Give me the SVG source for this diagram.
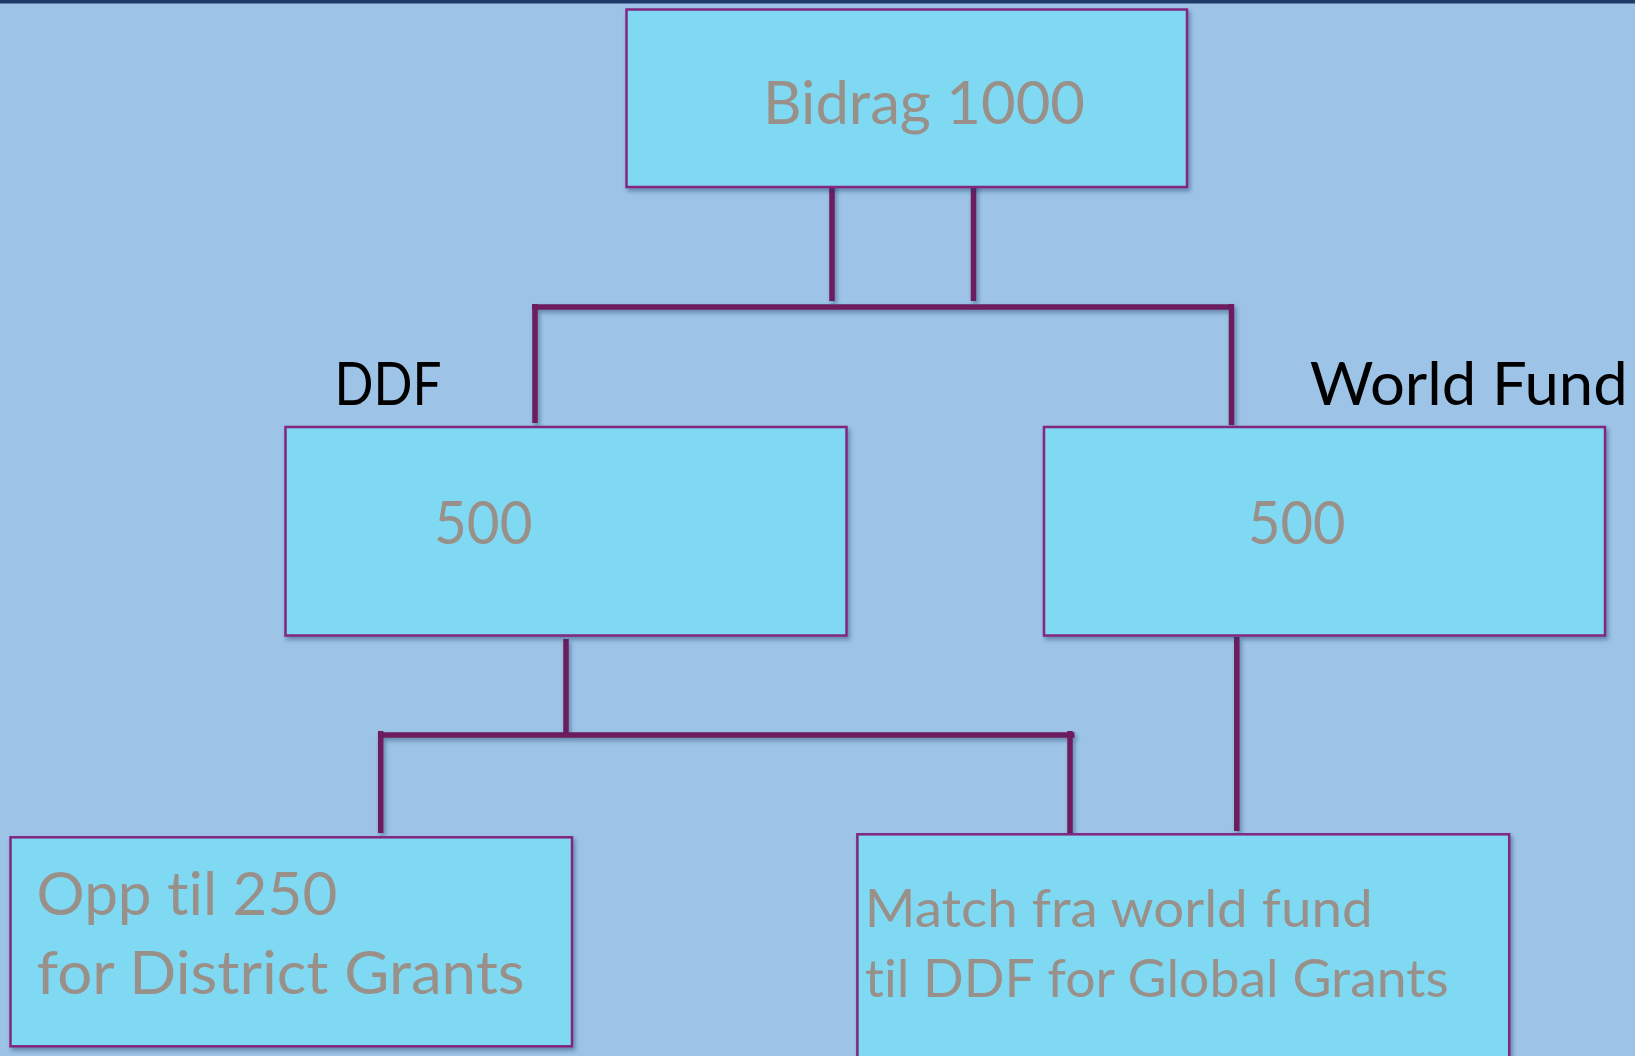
<svg xmlns="http://www.w3.org/2000/svg" width="1635" height="1056" viewBox="0 0 1635 1056">
<style>
.box{fill:#80D9F3;stroke:#82267F;stroke-width:2.5}
.lbl{font-family:Lato,"Open Sans","Liberation Sans",sans-serif;font-size:60px;fill:#9A908A;font-variant-ligatures:none;font-feature-settings:"liga" 0,"clig" 0}
.sm{font-size:52px}
.hdr{font-family:Lato,"Open Sans","Liberation Sans",sans-serif;font-size:60px;fill:#000000;font-variant-ligatures:none}
.con{stroke:#6D1A5E;stroke-width:5.5;fill:none;stroke-linecap:butt}
</style>
<defs>
<filter id="sh" x="-10%" y="-10%" width="120%" height="130%">
<feDropShadow dx="2" dy="3" stdDeviation="2" flood-color="#1F3864" flood-opacity="0.45"/>
</filter>
</defs>
<rect x="0" y="0" width="1635" height="1056" fill="#9DC3E6"/>
<rect x="0" y="0" width="1635" height="3.5" fill="#1F3A6A"/>

<g id="connectors" filter="url(#sh)">
<line class="con" x1="832" y1="182" x2="832" y2="301"/>
<line class="con" x1="973.5" y1="182" x2="973.5" y2="301"/>
<line class="con" x1="532" y1="307" x2="1234" y2="307"/>
<line class="con" x1="535" y1="304" x2="535" y2="423"/>
<line class="con" x1="1231.5" y1="304" x2="1231.5" y2="425"/>
<line class="con" x1="566" y1="639" x2="566" y2="735"/>
<line class="con" x1="378" y1="735" x2="1074.5" y2="735"/>
<line class="con" x1="380.7" y1="731" x2="380.7" y2="833"/>
<line class="con" x1="1070" y1="731" x2="1070" y2="834"/>
<line class="con" x1="1236.8" y1="637" x2="1236.8" y2="831"/>
</g>

<g id="node-bidrag">
<rect class="box" x="626.5" y="9.5" width="560.5" height="177.5" filter="url(#sh)"/>
<text class="lbl" x="763" y="124" textLength="322" lengthAdjust="spacingAndGlyphs">Bidrag 1000</text>
</g>

<g id="label-ddf">
<text class="hdr" x="334.6" y="405" textLength="107" lengthAdjust="spacingAndGlyphs">DDF</text>
</g>
<g id="label-worldfund">
<text class="hdr" x="1309.7" y="405" textLength="318" lengthAdjust="spacingAndGlyphs">World Fund</text>
</g>

<g id="node-ddf">
<rect class="box" x="285.5" y="427" width="561" height="208.5" filter="url(#sh)"/>
<text class="lbl" x="434" y="544" textLength="98.5" lengthAdjust="spacingAndGlyphs">500</text>
</g>

<g id="node-worldfund">
<rect class="box" x="1044" y="427" width="561" height="208.5" filter="url(#sh)"/>
<text class="lbl" x="1248" y="543.5" textLength="97.6" lengthAdjust="spacingAndGlyphs">500</text>
</g>

<g id="node-district">
<rect class="box" x="10.5" y="837.3" width="561.5" height="209" filter="url(#sh)"/>
<text class="lbl" x="36.6" y="915" textLength="300.7" lengthAdjust="spacingAndGlyphs">Opp til 250</text>
<text class="lbl" x="36.6" y="994" textLength="488" lengthAdjust="spacingAndGlyphs">for District Grants</text>
</g>

<g id="node-global">
<rect class="box" x="857.4" y="834.3" width="651.8" height="300" filter="url(#sh)"/>
<text class="lbl sm" x="864.7" y="926.7" textLength="508" lengthAdjust="spacingAndGlyphs">Match fra world fund</text>
<text class="lbl sm" x="864.7" y="996.7" textLength="584" lengthAdjust="spacingAndGlyphs">til DDF for Global Grants</text>
</g>
</svg>
